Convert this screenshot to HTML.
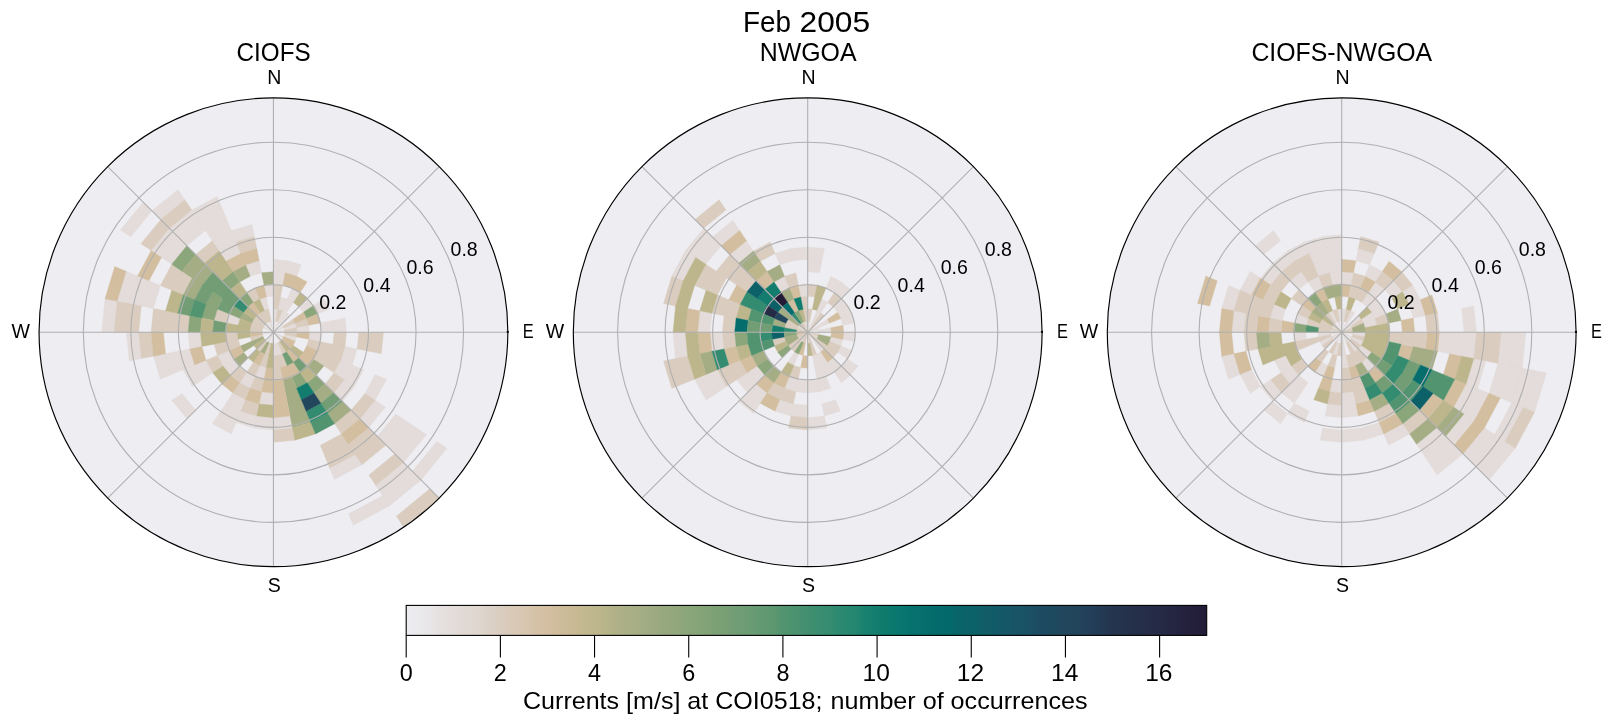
<!DOCTYPE html>
<html><head><meta charset="utf-8"><style>
html,body{margin:0;padding:0;background:#fff;width:1611px;height:724px;overflow:hidden}
svg{display:block;will-change:transform}
text{font-family:"Liberation Sans",sans-serif;fill:#000}
</style></head><body>
<svg width="1611" height="724" viewBox="0 0 1611 724">
<rect width="1611" height="724" fill="#fff"/>
<defs><clipPath id="cp0"><circle cx="273.45" cy="332.3" r="234.4"/></clipPath></defs>
<circle cx="273.45" cy="332.3" r="234.4" fill="#EEEDF2"/>
<g clip-path="url(#cp0)">
<path fill="#E3DCDA" stroke="#E3DCDA" stroke-width="0.35" d="M130.65 236.88L120.38 230.02L143.28 202.13L152 210.85ZM160.73 219.58L152 210.85L178.03 189.5L184.89 199.76ZM178.19 237.04L169.46 228.31L191.75 210.02L198.61 220.29ZM186.92 245.77L178.19 237.04L198.61 220.29L205.46 230.55ZM161.44 257.46L151.17 250.6L169.46 228.31L178.19 237.04ZM171.7 264.31L161.44 257.46L178.19 237.04L186.92 245.77ZM129.22 303.61L117.11 301.2L126.18 271.3L137.58 276.02ZM141.32 306.02L129.22 303.61L137.58 276.02L148.99 280.75ZM153.43 308.43L141.32 306.02L148.99 280.75L160.39 285.47ZM198.61 220.29L191.75 210.02L217.17 196.43L221.9 207.84ZM205.46 230.55L198.61 220.29L221.9 207.84L226.62 219.24ZM212.32 240.82L205.46 230.55L226.62 219.24L231.35 230.65ZM219.18 251.08L212.32 240.82L231.35 230.65L236.07 242.06ZM236.07 242.06L231.35 230.65L251.99 224.39L254.39 236.5ZM226.04 261.35L219.18 251.08L236.07 242.06L240.79 253.46ZM250.24 276.27L245.52 264.87L259.21 260.71L261.62 272.82ZM273.45 271.66L273.45 259.31L287.69 260.71L285.28 272.82ZM273.45 284L273.45 271.66L285.28 272.82L282.87 284.93ZM285.28 272.82L287.69 260.71L301.38 264.87L296.66 276.27ZM266.44 297.04L264.03 284.93L273.45 284L273.45 296.35ZM287.21 299.08L291.93 287.68L300.28 292.14L293.43 302.4ZM114.04 332.3L101.7 332.3L105 298.79L117.11 301.2ZM141.32 358.58L129.22 360.99L126.39 332.3L138.73 332.3ZM201.86 346.54L189.75 348.95L188.11 332.3L200.46 332.3ZM171.8 374.4L160.39 379.13L153.43 356.17L165.54 353.76ZM183.21 369.68L171.8 374.4L165.54 353.76L177.65 351.36ZM202.5 379.71L192.23 386.57L183.21 369.68L194.61 364.96ZM212.76 372.85L202.5 379.71L194.61 364.96L206.02 360.23ZM195.65 410.1L186.92 418.83L171.7 400.29L181.97 393.43ZM298.87 306.88L307.6 298.15L313.61 305.47L303.35 312.32ZM309.4 332.3L321.75 332.3L320.82 341.72L308.71 339.31ZM266.44 367.56L264.03 379.67L254.97 376.92L259.69 365.52ZM238.19 325.29L226.08 322.88L228.83 313.82L240.23 318.54ZM313.61 305.47L323.87 298.61L329.48 309.09L318.07 313.82ZM320.82 322.88L332.93 320.47L334.09 332.3L321.75 332.3ZM254.97 376.92L250.24 388.33L239.76 382.72L246.62 372.46ZM239.3 366.45L230.57 375.18L223.03 365.99L233.29 359.13ZM233.29 359.13L223.03 365.99L217.42 355.51L228.83 350.78ZM273.45 392.94L273.45 405.29L259.21 403.89L261.62 391.78ZM332.93 320.47L345.04 318.06L346.44 332.3L334.09 332.3ZM345.04 346.54L357.15 348.95L352.29 364.96L340.88 360.23ZM340.88 360.23L352.29 364.96L344.4 379.71L334.14 372.85ZM352.29 364.96L363.69 369.68L354.67 386.57L344.4 379.71ZM344.4 379.71L354.67 386.57L342.52 401.37L333.79 392.64ZM375.1 374.4L386.51 379.13L375.2 400.29L364.93 393.43ZM375.2 400.29L385.46 407.14L368.71 427.56L359.98 418.83ZM273.45 417.63L273.45 429.98L254.39 428.1L256.8 416ZM256.8 416L254.39 428.1L236.07 422.54L240.79 411.14ZM290.1 416L292.51 428.1L273.45 429.98L273.45 417.63ZM240.79 411.14L236.07 422.54L219.18 413.52L226.04 403.25ZM236.07 422.54L231.35 433.95L212.32 423.78L219.18 413.52ZM395.73 414L405.99 420.86L386.17 445.02L377.44 436.29ZM405.99 420.86L416.25 427.72L394.9 453.75L386.17 445.02ZM416.25 427.72L426.52 434.58L403.62 462.47L394.9 453.75ZM355.15 454.58L362.01 464.84L334.45 479.57L329.73 468.17ZM403.62 462.47L412.35 471.2L382.59 495.63L375.73 485.37ZM412.35 471.2L421.08 479.93L389.44 505.9L382.59 495.63ZM436.78 441.44L447.05 448.29L421.08 479.93L412.35 471.2ZM382.59 495.63L389.44 505.9L353.35 525.19L348.62 513.79ZM273.45 321.04L273.45 308.69L278.06 309.14L275.65 321.25ZM278.06 309.14L280.46 297.04L287.21 299.08L282.49 310.49ZM282.49 310.49L287.21 299.08L293.43 302.4L286.57 312.67ZM277.76 321.89L282.49 310.49L286.57 312.67L279.71 322.93ZM279.71 322.93L286.57 312.67L290.14 315.61L281.42 324.33ZM283.86 327.99L295.26 323.26L296.61 327.69L284.5 330.1ZM296.61 327.69L308.71 325.29L309.4 332.3L297.06 332.3ZM284.5 334.5L296.61 336.91L295.26 341.34L283.86 336.61ZM277.76 342.71L282.49 354.11L278.06 355.46L275.65 343.35ZM275.65 343.35L278.06 355.46L273.45 355.91L273.45 343.56ZM264.41 310.49L259.69 299.08L266.44 297.04L268.84 309.14ZM273.45 332.3L273.45 321.04L275.65 321.25ZM273.45 332.3L277.76 321.89L279.71 322.93ZM273.45 332.3L282.82 326.04L283.86 327.99ZM273.45 332.3L284.5 330.1L284.71 332.3ZM273.45 332.3L283.86 336.61L282.82 338.56ZM273.45 332.3L281.42 340.27L279.71 341.67ZM273.45 332.3L273.45 343.56L271.25 343.35ZM273.45 332.3L269.14 342.71L267.19 341.67ZM273.45 332.3L262.4 334.5L262.19 332.3ZM273.45 332.3L263.04 327.99L264.08 326.04ZM273.45 332.3L265.48 324.33L267.19 322.93ZM273.45 332.3L269.14 321.89L271.25 321.25ZM194.61 364.96L183.21 369.68L177.65 351.36L189.75 348.95ZM245.52 399.73L240.79 411.14L226.04 403.25L232.9 392.99Z"/>
<path fill="#DACDC0" stroke="#DACDC0" stroke-width="0.35" d="M169.46 228.31L160.73 219.58L184.89 199.76L191.75 210.02ZM204.38 263.23L195.65 254.5L212.32 240.82L219.18 251.08ZM151.17 250.6L140.91 243.74L160.73 219.58L169.46 228.31ZM171.8 290.2L160.39 285.47L171.7 264.31L181.97 271.17ZM183.21 294.92L171.8 290.2L181.97 271.17L192.23 278.03ZM240.79 253.46L236.07 242.06L254.39 236.5L256.8 248.6ZM273.45 296.35L273.45 284L282.87 284.93L280.46 297.04ZM253.47 302.4L246.62 292.14L254.97 287.68L259.69 299.08ZM126.39 332.3L114.04 332.3L117.11 301.2L129.22 303.61ZM138.73 332.3L126.39 332.3L129.22 303.61L141.32 306.02ZM163.42 332.3L151.08 332.3L153.43 308.43L165.54 310.84ZM175.77 332.3L163.42 332.3L165.54 310.84L177.65 313.24ZM188.11 332.3L175.77 332.3L177.65 313.24L189.75 315.65ZM153.43 356.17L141.32 358.58L138.73 332.3L151.08 332.3ZM308.71 339.31L320.82 341.72L318.07 350.78L306.67 346.06ZM280.46 367.56L282.87 379.67L273.45 380.6L273.45 368.25ZM259.69 365.52L254.97 376.92L246.62 372.46L253.47 362.2ZM240.23 346.06L228.83 350.78L226.08 341.72L238.19 339.31ZM238.19 339.31L226.08 341.72L225.15 332.3L237.49 332.3ZM320.82 341.72L332.93 344.13L329.48 355.51L318.07 350.78ZM318.07 350.78L329.48 355.51L323.87 365.99L313.61 359.13ZM264.03 379.67L261.62 391.78L250.24 388.33L254.97 376.92ZM246.62 372.46L239.76 382.72L230.57 375.18L239.3 366.45ZM228.83 350.78L217.42 355.51L213.97 344.13L226.08 341.72ZM226.08 322.88L213.97 320.47L217.42 309.09L228.83 313.82ZM250.24 388.33L245.52 399.73L232.9 392.99L239.76 382.72ZM334.09 332.3L346.44 332.3L345.04 346.54L332.93 344.13ZM358.78 332.3L371.13 332.3L369.25 351.36L357.15 348.95ZM371.13 332.3L383.48 332.3L381.36 353.76L369.25 351.36ZM332.93 344.13L345.04 346.54L340.88 360.23L329.48 355.51ZM329.48 355.51L340.88 360.23L334.14 372.85L323.87 365.99ZM334.14 372.85L344.4 379.71L333.79 392.64L325.06 383.91ZM364.93 393.43L375.2 400.29L359.98 418.83L351.25 410.1ZM259.21 403.89L256.8 416L240.79 411.14L245.52 399.73ZM292.51 428.1L294.91 440.21L273.45 442.33L273.45 429.98ZM351.25 410.1L359.98 418.83L341.44 434.05L334.58 423.78ZM368.71 427.56L377.44 436.29L355.15 454.58L348.29 444.31ZM377.44 436.29L386.17 445.02L362.01 464.84L355.15 454.58ZM348.29 444.31L355.15 454.58L329.73 468.17L325 456.76ZM341.44 434.05L348.29 444.31L325 456.76L320.28 445.36ZM394.9 453.75L403.62 462.47L375.73 485.37L368.87 475.1ZM429.81 488.66L440.7 499.55L404.86 528.97L396.3 516.16ZM273.45 308.69L273.45 296.35L280.46 297.04L278.06 309.14ZM275.65 321.25L278.06 309.14L282.49 310.49L277.76 321.89ZM282.82 326.04L293.08 319.18L295.26 323.26L283.86 327.99ZM295.26 323.26L306.67 318.54L308.71 325.29L296.61 327.69ZM284.5 330.1L296.61 327.69L297.06 332.3L284.71 332.3ZM284.71 332.3L297.06 332.3L296.61 336.91L284.5 334.5ZM279.71 341.67L286.57 351.93L282.49 354.11L277.76 342.71ZM282.49 354.11L287.21 365.52L280.46 367.56L278.06 355.46ZM278.06 355.46L280.46 367.56L273.45 368.25L273.45 355.91ZM268.84 355.46L266.44 367.56L259.69 365.52L264.41 354.11ZM271.25 343.35L268.84 355.46L264.41 354.11L269.14 342.71ZM267.19 341.67L260.33 351.93L256.76 348.99L265.48 340.27ZM263.04 336.61L251.64 341.34L250.29 336.91L262.4 334.5ZM262.19 332.3L249.84 332.3L250.29 327.69L262.4 330.1ZM262.4 330.1L250.29 327.69L251.64 323.26L263.04 327.99ZM263.04 327.99L251.64 323.26L253.82 319.18L264.08 326.04ZM264.08 326.04L253.82 319.18L256.76 315.61L265.48 324.33ZM265.48 324.33L256.76 315.61L260.33 312.67L267.19 322.93ZM267.19 322.93L260.33 312.67L264.41 310.49L269.14 321.89ZM269.14 321.89L264.41 310.49L268.84 309.14L271.25 321.25ZM223.03 365.99L212.76 372.85L206.02 360.23L217.42 355.51Z"/>
<path fill="#8AA67A" stroke="#8AA67A" stroke-width="0.35" d="M181.97 271.17L171.7 264.31L186.92 245.77L195.65 254.5ZM230.57 289.42L221.84 280.69L232.9 271.61L239.76 281.88ZM248.03 306.88L239.3 298.15L246.62 292.14L253.47 302.4ZM200.46 332.3L188.11 332.3L189.75 315.65L201.86 318.06ZM213.97 320.47L201.86 318.06L206.02 304.37L217.42 309.09ZM303.35 312.32L313.61 305.47L318.07 313.82L306.67 318.54ZM240.23 318.54L228.83 313.82L233.29 305.47L243.55 312.32ZM300.28 372.46L307.14 382.72L296.66 388.33L291.93 376.92ZM316.33 375.18L325.06 383.91L314 392.99L307.14 382.72ZM217.42 309.09L206.02 304.37L212.76 291.75L223.03 298.61Z"/>
<path fill="#A5AD85" stroke="#A5AD85" stroke-width="0.35" d="M192.23 278.03L181.97 271.17L195.65 254.5L204.38 263.23ZM239.76 281.88L232.9 271.61L245.52 264.87L250.24 276.27ZM264.03 284.93L261.62 272.82L273.45 271.66L273.45 284ZM248.03 357.72L239.3 366.45L233.29 359.13L243.55 352.28ZM313.61 359.13L323.87 365.99L316.33 375.18L307.6 366.45ZM291.93 376.92L296.66 388.33L285.28 391.78L282.87 379.67ZM296.66 388.33L301.38 399.73L287.69 403.89L285.28 391.78ZM325.06 383.91L333.79 392.64L320.86 403.25L314 392.99ZM301.38 399.73L306.11 411.14L290.1 416L287.69 403.89ZM342.52 401.37L351.25 410.1L334.58 423.78L327.72 413.52ZM306.11 411.14L310.83 422.54L292.51 428.1L290.1 416ZM269.14 342.71L264.41 354.11L260.33 351.93L267.19 341.67ZM253.82 345.42L243.55 352.28L240.23 346.06L251.64 341.34ZM264.08 338.56L253.82 345.42L251.64 341.34L263.04 336.61ZM251.64 323.26L240.23 318.54L243.55 312.32L253.82 319.18ZM202.5 284.89L192.23 278.03L204.38 263.23L213.11 271.96ZM194.61 299.64L183.21 294.92L192.23 278.03L202.5 284.89Z"/>
<path fill="#D3BEA0" stroke="#D3BEA0" stroke-width="0.35" d="M148.99 280.75L137.58 276.02L151.17 250.6L161.44 257.46ZM117.11 301.2L105 298.79L114.77 266.57L126.18 271.3ZM245.52 264.87L240.79 253.46L256.8 248.6L259.21 260.71ZM232.9 271.61L226.04 261.35L240.79 253.46L245.52 264.87ZM282.87 284.93L285.28 272.82L296.66 276.27L291.93 287.68ZM291.93 287.68L296.66 276.27L307.14 281.88L300.28 292.14ZM259.69 299.08L254.97 287.68L264.03 284.93L266.44 297.04ZM165.54 353.76L153.43 356.17L151.08 332.3L163.42 332.3ZM206.02 360.23L194.61 364.96L189.75 348.95L201.86 346.54ZM306.67 318.54L318.07 313.82L320.82 322.88L308.71 325.29ZM306.67 346.06L318.07 350.78L313.61 359.13L303.35 352.28ZM303.35 352.28L313.61 359.13L307.6 366.45L298.87 357.72ZM293.43 362.2L300.28 372.46L291.93 376.92L287.21 365.52ZM287.21 365.52L291.93 376.92L282.87 379.67L280.46 367.56ZM273.45 368.25L273.45 380.6L264.03 379.67L266.44 367.56ZM243.55 352.28L233.29 359.13L228.83 350.78L240.23 346.06ZM282.87 379.67L285.28 391.78L273.45 392.94L273.45 380.6ZM273.45 380.6L273.45 392.94L261.62 391.78L264.03 379.67ZM285.28 391.78L287.69 403.89L273.45 405.29L273.45 392.94ZM261.62 391.78L259.21 403.89L245.52 399.73L250.24 388.33ZM239.76 382.72L232.9 392.99L221.84 383.91L230.57 375.18ZM287.69 403.89L290.1 416L273.45 417.63L273.45 405.29ZM359.98 418.83L368.71 427.56L348.29 444.31L341.44 434.05ZM293.08 319.18L303.35 312.32L306.67 318.54L295.26 323.26ZM297.06 332.3L309.4 332.3L308.71 339.31L296.61 336.91ZM283.86 336.61L295.26 341.34L293.08 345.42L282.82 338.56ZM282.82 338.56L293.08 345.42L290.14 348.99L281.42 340.27ZM290.14 348.99L298.87 357.72L293.43 362.2L286.57 351.93ZM264.41 354.11L259.69 365.52L253.47 362.2L260.33 351.93ZM262.4 334.5L250.29 336.91L249.84 332.3L262.19 332.3ZM256.76 315.61L248.03 306.88L253.47 302.4L260.33 312.67Z"/>
<path fill="#BDB68C" stroke="#BDB68C" stroke-width="0.35" d="M221.84 280.69L213.11 271.96L226.04 261.35L232.9 271.61ZM213.11 271.96L204.38 263.23L219.18 251.08L226.04 261.35ZM239.3 298.15L230.57 289.42L239.76 281.88L246.62 292.14ZM293.43 302.4L300.28 292.14L307.6 298.15L298.87 306.88ZM212.8 332.3L200.46 332.3L201.86 318.06L213.97 320.47ZM177.65 313.24L165.54 310.84L171.8 290.2L183.21 294.92ZM213.97 344.13L201.86 346.54L200.46 332.3L212.8 332.3ZM237.49 332.3L225.15 332.3L226.08 322.88L238.19 325.29ZM307.6 366.45L316.33 375.18L307.14 382.72L300.28 372.46ZM226.08 341.72L213.97 344.13L212.8 332.3L225.15 332.3ZM230.57 375.18L221.84 383.91L212.76 372.85L223.03 365.99ZM273.45 405.29L273.45 417.63L256.8 416L259.21 403.89ZM310.83 422.54L315.55 433.95L294.91 440.21L292.51 428.1ZM293.08 345.42L303.35 352.28L298.87 357.72L290.14 348.99ZM281.42 340.27L290.14 348.99L286.57 351.93L279.71 341.67ZM273.45 355.91L273.45 368.25L266.44 367.56L268.84 355.46ZM273.45 343.56L273.45 355.91L268.84 355.46L271.25 343.35ZM260.33 351.93L253.47 362.2L248.03 357.72L256.76 348.99ZM265.48 340.27L256.76 348.99L253.82 345.42L264.08 338.56ZM250.29 336.91L238.19 339.31L237.49 332.3L249.84 332.3ZM249.84 332.3L237.49 332.3L238.19 325.29L250.29 327.69ZM250.29 327.69L238.19 325.29L240.23 318.54L251.64 323.26ZM253.82 319.18L243.55 312.32L248.03 306.88L256.76 315.61ZM260.33 312.67L253.47 302.4L259.69 299.08L264.41 310.49Z"/>
<path fill="#729D75" stroke="#729D75" stroke-width="0.35" d="M189.75 315.65L177.65 313.24L183.21 294.92L194.61 299.64ZM298.87 357.72L307.6 366.45L300.28 372.46L293.43 362.2ZM225.15 332.3L212.8 332.3L213.97 320.47L226.08 322.88ZM228.83 313.82L217.42 309.09L223.03 298.61L233.29 305.47ZM333.79 392.64L342.52 401.37L327.72 413.52L320.86 403.25ZM286.57 351.93L293.43 362.2L287.21 365.52L282.49 354.11ZM233.29 305.47L223.03 298.61L230.57 289.42L239.3 298.15ZM223.03 298.61L212.76 291.75L221.84 280.69L230.57 289.42ZM212.76 291.75L202.5 284.89L213.11 271.96L221.84 280.69ZM206.02 304.37L194.61 299.64L202.5 284.89L212.76 291.75Z"/>
<path fill="#52946F" stroke="#52946F" stroke-width="0.35" d="M201.86 318.06L189.75 315.65L194.61 299.64L206.02 304.37ZM327.72 413.52L334.58 423.78L315.55 433.95L310.83 422.54Z"/>
<path fill="#348C70" stroke="#348C70" stroke-width="0.35" d="M243.55 312.32L233.29 305.47L239.3 298.15L248.03 306.88ZM320.86 403.25L327.72 413.52L310.83 422.54L306.11 411.14Z"/>
<path fill="#127D6E" stroke="#127D6E" stroke-width="0.35" d="M307.14 382.72L314 392.99L301.38 399.73L296.66 388.33Z"/>
<path fill="#22475C" stroke="#22475C" stroke-width="0.35" d="M314 392.99L320.86 403.25L306.11 411.14L301.38 399.73Z"/>
</g>
<g fill="none" stroke="#B0B0B0" stroke-width="1.1"><circle cx="273.45" cy="332.3" r="47.53"/><circle cx="273.45" cy="332.3" r="95.06"/><circle cx="273.45" cy="332.3" r="142.59"/><circle cx="273.45" cy="332.3" r="190.12"/><path d="M273.45 332.3L273.45 97.9M273.45 332.3L439.2 166.55M273.45 332.3L507.85 332.3M273.45 332.3L439.2 498.05M273.45 332.3L273.45 566.7M273.45 332.3L107.7 498.05M273.45 332.3L39.05 332.3M273.45 332.3L107.7 166.55"/></g>
<circle cx="273.45" cy="332.3" r="234.4" fill="none" stroke="#000" stroke-width="1.15"/>
<circle cx="507.75" cy="331.9" r="1.15" fill="#000"/>
<defs><clipPath id="cp1"><circle cx="807.7" cy="332.3" r="234.4"/></clipPath></defs>
<circle cx="807.7" cy="332.3" r="234.4" fill="#EEEDF2"/>
<g clip-path="url(#cp1)">
<path fill="#E3DCDA" stroke="#E3DCDA" stroke-width="0.35" d="M695.69 257.46L685.42 250.6L703.71 228.31L712.44 237.04ZM705.95 264.31L695.69 257.46L712.44 237.04L721.17 245.77ZM721.17 245.77L712.44 237.04L732.86 220.29L739.71 230.55ZM738.63 263.23L729.9 254.5L746.57 240.82L753.43 251.08ZM683.24 280.75L671.83 276.02L685.42 250.6L695.69 257.46ZM793.46 260.71L791.05 248.6L807.7 246.97L807.7 259.31ZM807.7 259.31L807.7 246.97L824.35 248.6L821.94 260.71ZM807.7 271.66L807.7 259.31L821.94 260.71L819.53 272.82ZM779.77 264.87L775.04 253.46L791.05 248.6L793.46 260.71ZM780.87 292.14L774.01 281.88L784.49 276.27L789.22 287.68ZM800.69 297.04L798.28 284.93L807.7 284L807.7 296.35ZM826.18 287.68L830.91 276.27L841.39 281.88L834.53 292.14ZM834.53 292.14L841.39 281.88L850.58 289.42L841.85 298.15ZM816.74 310.49L821.46 299.08L827.68 302.4L820.82 312.67ZM710.02 332.3L697.68 332.3L699.79 310.84L711.9 313.24ZM687.68 356.17L675.57 358.58L672.99 332.3L685.33 332.3ZM724 348.95L711.9 351.36L710.02 332.3L722.37 332.3ZM716.22 393.43L705.95 400.29L694.64 379.13L706.05 374.4ZM726.48 386.57L716.22 393.43L706.05 374.4L717.46 369.68ZM756.09 383.91L747.36 392.64L736.75 379.71L747.01 372.85ZM821.46 365.52L826.18 376.92L817.12 379.67L814.71 367.56ZM827.68 362.2L834.53 372.46L826.18 376.92L821.46 365.52ZM833.12 357.72L841.85 366.45L834.53 372.46L827.68 362.2ZM843.66 332.3L856 332.3L855.07 341.72L842.96 339.31ZM840.92 318.54L852.32 313.82L855.07 322.88L842.96 325.29ZM837.6 312.32L847.86 305.47L852.32 313.82L840.92 318.54ZM833.12 306.88L841.85 298.15L847.86 305.47L837.6 312.32ZM798.28 379.67L795.87 391.78L784.49 388.33L789.22 376.92ZM807.7 380.6L807.7 392.94L795.87 391.78L798.28 379.67ZM817.12 379.67L819.53 391.78L807.7 392.94L807.7 380.6ZM826.18 376.92L830.91 388.33L819.53 391.78L817.12 379.67ZM841.85 366.45L850.58 375.18L841.39 382.72L834.53 372.46ZM847.86 359.13L858.12 365.99L850.58 375.18L841.85 366.45ZM764.82 375.18L756.09 383.91L747.01 372.85L757.28 365.99ZM767.15 392.99L760.29 403.25L747.36 392.64L756.09 383.91ZM793.46 403.89L791.05 416L775.04 411.14L779.77 399.73ZM807.7 405.29L807.7 417.63L791.05 416L793.46 403.89ZM835.63 399.73L840.36 411.14L824.35 416L821.94 403.89ZM824.35 416L826.76 428.1L807.7 429.98L807.7 417.63ZM760.29 403.25L753.43 413.52L738.63 401.37L747.36 392.64ZM830.86 336.91L842.96 339.31L840.92 346.06L829.51 341.34ZM820.82 351.93L827.68 362.2L821.46 365.52L816.74 354.11ZM816.74 354.11L821.46 365.52L814.71 367.56L812.31 355.46ZM798.66 354.11L793.94 365.52L787.72 362.2L794.58 351.93ZM840.92 346.06L852.32 350.78L847.86 359.13L837.6 352.28ZM812.01 321.89L816.74 310.49L820.82 312.67L813.96 322.93ZM817.07 326.04L827.33 319.18L829.51 323.26L818.11 327.99ZM818.75 330.1L830.86 327.69L831.31 332.3L818.97 332.3ZM815.67 340.27L824.39 348.99L820.82 351.93L813.96 341.67ZM807.7 332.3L807.7 321.04L809.9 321.25ZM807.7 332.3L812.01 321.89L813.96 322.93ZM807.7 332.3L817.07 326.04L818.11 327.99ZM807.7 332.3L818.11 327.99L818.75 330.1ZM807.7 332.3L818.97 332.3L818.75 334.5ZM807.7 332.3L818.11 336.61L817.07 338.56ZM807.7 332.3L815.67 340.27L813.96 341.67ZM807.7 332.3L809.9 343.35L807.7 343.56ZM807.7 332.3L801.44 341.67L799.73 340.27ZM807.7 332.3L797.29 327.99L798.33 326.04ZM807.7 332.3L803.39 321.89L805.5 321.25ZM807.7 332.3L805.5 321.25L807.7 321.04Z"/>
<path fill="#DACDC0" stroke="#DACDC0" stroke-width="0.35" d="M726.48 278.03L716.22 271.17L729.9 254.5L738.63 263.23ZM736.75 284.89L726.48 278.03L738.63 263.23L747.36 271.96ZM703.71 228.31L694.98 219.58L719.14 199.76L726 210.02ZM675.57 306.02L663.47 303.61L671.83 276.02L683.24 280.75ZM706.05 290.2L694.64 285.47L705.95 264.31L716.22 271.17ZM717.46 294.92L706.05 290.2L716.22 271.17L726.48 278.03ZM724 315.65L711.9 313.24L717.46 294.92L728.86 299.64ZM736.11 318.06L724 315.65L728.86 299.64L740.27 304.37ZM760.29 261.35L753.43 251.08L770.32 242.06L775.04 253.46ZM789.22 287.68L784.49 276.27L795.87 272.82L798.28 284.93ZM747.01 291.75L736.75 284.89L747.36 271.96L756.09 280.69ZM807.7 296.35L807.7 284L817.12 284.93L814.71 297.04ZM827.68 302.4L834.53 292.14L841.85 298.15L833.12 306.88ZM803.09 309.14L800.69 297.04L807.7 296.35L807.7 308.69ZM734.71 332.3L722.37 332.3L724 315.65L736.11 318.06ZM736.11 346.54L724 348.95L722.37 332.3L734.71 332.3ZM683.24 383.85L671.83 388.58L663.47 360.99L675.57 358.58ZM694.64 379.13L683.24 383.85L675.57 358.58L687.68 356.17ZM736.75 379.71L726.48 386.57L717.46 369.68L728.86 364.96ZM747.01 372.85L736.75 379.71L728.86 364.96L740.27 360.23ZM796.65 330.1L784.54 327.69L785.89 323.26L797.29 327.99ZM797.29 327.99L785.89 323.26L788.07 319.18L798.33 326.04ZM800.69 367.56L798.28 379.67L789.22 376.92L793.94 365.52ZM784.49 388.33L779.77 399.73L767.15 392.99L774.01 382.72ZM795.87 391.78L793.46 403.89L779.77 399.73L784.49 388.33ZM807.7 417.63L807.7 429.98L788.64 428.1L791.05 416ZM827.33 345.42L837.6 352.28L833.12 357.72L824.39 348.99ZM785.89 341.34L774.48 346.06L772.44 339.31L784.54 336.91ZM829.51 341.34L840.92 346.06L837.6 352.28L827.33 345.42ZM807.7 321.04L807.7 308.69L812.31 309.14L809.9 321.25ZM813.96 322.93L820.82 312.67L824.39 315.61L815.67 324.33ZM817.07 338.56L827.33 345.42L824.39 348.99L815.67 340.27ZM812.01 342.71L816.74 354.11L812.31 355.46L809.9 343.35ZM801.44 341.67L794.58 351.93L791.01 348.99L799.73 340.27ZM799.73 340.27L791.01 348.99L788.07 345.42L798.33 338.56ZM805.5 321.25L803.09 309.14L807.7 308.69L807.7 321.04ZM807.7 332.3L813.96 322.93L815.67 324.33ZM807.7 332.3L818.75 334.5L818.11 336.61ZM807.7 332.3L817.07 338.56L815.67 340.27ZM807.7 332.3L812.01 342.71L809.9 343.35ZM807.7 332.3L805.5 343.35L803.39 342.71ZM807.7 332.3L803.39 342.71L801.44 341.67ZM807.7 332.3L799.73 340.27L798.33 338.56ZM807.7 332.3L798.33 338.56L797.29 336.61ZM807.7 332.3L797.29 336.61L796.65 334.5ZM807.7 332.3L796.44 332.3L796.65 330.1ZM807.7 332.3L796.65 330.1L797.29 327.99ZM807.7 332.3L798.33 326.04L799.73 324.33ZM807.7 332.3L799.73 324.33L801.44 322.93ZM807.7 332.3L801.44 322.93L803.39 321.89Z"/>
<path fill="#D3BEA0" stroke="#D3BEA0" stroke-width="0.35" d="M729.9 254.5L721.17 245.77L739.71 230.55L746.57 240.82ZM740.27 304.37L728.86 299.64L736.75 284.89L747.01 291.75ZM764.82 289.42L756.09 280.69L767.15 271.61L774.01 281.88ZM793.94 299.08L789.22 287.68L798.28 284.93L800.69 297.04ZM794.58 312.67L787.72 302.4L793.94 299.08L798.66 310.49ZM697.68 332.3L685.33 332.3L687.68 308.43L699.79 310.84ZM711.9 351.36L699.79 353.76L697.68 332.3L710.02 332.3ZM740.27 360.23L728.86 364.96L724 348.95L736.11 346.54ZM830.86 327.69L842.96 325.29L843.66 332.3L831.31 332.3ZM827.33 319.18L837.6 312.32L840.92 318.54L829.51 323.26ZM789.22 376.92L784.49 388.33L774.01 382.72L780.87 372.46ZM757.28 365.99L747.01 372.85L740.27 360.23L751.67 355.51ZM774.01 382.72L767.15 392.99L756.09 383.91L764.82 375.18ZM779.77 399.73L775.04 411.14L760.29 403.25L767.15 392.99ZM831.31 332.3L843.66 332.3L842.96 339.31L830.86 336.91ZM807.7 355.91L807.7 368.25L800.69 367.56L803.09 355.46ZM824.39 348.99L833.12 357.72L827.68 362.2L820.82 351.93ZM805.5 343.35L803.09 355.46L798.66 354.11L803.39 342.71ZM807.7 332.3L796.65 334.5L796.44 332.3Z"/>
<path fill="#A5AD85" stroke="#A5AD85" stroke-width="0.35" d="M747.36 271.96L738.63 263.23L753.43 251.08L760.29 261.35ZM774.01 281.88L767.15 271.61L779.77 264.87L784.49 276.27ZM787.72 302.4L780.87 292.14L789.22 287.68L793.94 299.08ZM717.46 369.68L706.05 374.4L699.79 353.76L711.9 351.36ZM788.07 319.18L777.8 312.32L782.28 306.88L791.01 315.61ZM784.54 327.69L772.44 325.29L774.48 318.54L785.89 323.26ZM798.33 326.04L788.07 319.18L791.01 315.61L799.73 324.33ZM767.54 359.13L757.28 365.99L751.67 355.51L763.08 350.78ZM780.87 372.46L774.01 382.72L764.82 375.18L773.55 366.45ZM797.29 336.61L785.89 341.34L784.54 336.91L796.65 334.5ZM818.75 334.5L830.86 336.91L829.51 341.34L818.11 336.61ZM818.11 336.61L829.51 341.34L827.33 345.42L817.07 338.56ZM798.33 338.56L788.07 345.42L785.89 341.34L797.29 336.61Z"/>
<path fill="#BDB68C" stroke="#BDB68C" stroke-width="0.35" d="M694.64 285.47L683.24 280.75L695.69 257.46L705.95 264.31ZM687.68 308.43L675.57 306.02L683.24 280.75L694.64 285.47ZM711.9 313.24L699.79 310.84L706.05 290.2L717.46 294.92ZM756.09 280.69L747.36 271.96L760.29 261.35L767.15 271.61ZM814.71 297.04L817.12 284.93L826.18 287.68L821.46 299.08ZM812.31 309.14L814.71 297.04L821.46 299.08L816.74 310.49ZM685.33 332.3L672.99 332.3L675.57 306.02L687.68 308.43ZM748.22 320.47L736.11 318.06L740.27 304.37L751.67 309.09ZM699.79 353.76L687.68 356.17L685.33 332.3L697.68 332.3ZM706.05 374.4L694.64 379.13L687.68 356.17L699.79 353.76ZM751.67 355.51L740.27 360.23L736.11 346.54L748.22 344.13ZM793.94 365.52L789.22 376.92L780.87 372.46L787.72 362.2ZM788.07 345.42L777.8 352.28L774.48 346.06L785.89 341.34ZM809.9 343.35L812.31 355.46L807.7 355.91L807.7 343.56ZM803.39 321.89L798.66 310.49L803.09 309.14L805.5 321.25Z"/>
<path fill="#348C70" stroke="#348C70" stroke-width="0.35" d="M751.67 309.09L740.27 304.37L747.01 291.75L757.28 298.61ZM763.08 313.82L751.67 309.09L757.28 298.61L767.54 305.47ZM728.86 364.96L717.46 369.68L711.9 351.36L724 348.95ZM799.73 324.33L791.01 315.61L794.58 312.67L801.44 322.93ZM796.44 332.3L784.09 332.3L784.54 327.69L796.65 330.1ZM772.44 339.31L760.33 341.72L759.4 332.3L771.75 332.3Z"/>
<path fill="#127D6E" stroke="#127D6E" stroke-width="0.35" d="M773.55 298.15L764.82 289.42L774.01 281.88L780.87 292.14ZM767.54 305.47L757.28 298.61L764.82 289.42L773.55 298.15ZM798.66 310.49L793.94 299.08L800.69 297.04L803.09 309.14ZM784.09 332.3L771.75 332.3L772.44 325.29L784.54 327.69Z"/>
<path fill="#0C6168" stroke="#0C6168" stroke-width="0.35" d="M757.28 298.61L747.01 291.75L756.09 280.69L764.82 289.42ZM777.8 312.32L767.54 305.47L773.55 298.15L782.28 306.88ZM784.54 336.91L772.44 339.31L771.75 332.3L784.09 332.3Z"/>
<path fill="#231A36" stroke="#231A36" stroke-width="0.35" d="M782.28 306.88L773.55 298.15L780.87 292.14L787.72 302.4Z"/>
<path fill="#056E6C" stroke="#056E6C" stroke-width="0.35" d="M791.01 315.61L782.28 306.88L787.72 302.4L794.58 312.67ZM747.06 332.3L734.71 332.3L736.11 318.06L748.22 320.47Z"/>
<path fill="#8AA67A" stroke="#8AA67A" stroke-width="0.35" d="M748.22 344.13L736.11 346.54L734.71 332.3L747.06 332.3ZM773.55 366.45L764.82 375.18L757.28 365.99L767.54 359.13ZM791.01 348.99L782.28 357.72L777.8 352.28L788.07 345.42ZM796.65 334.5L784.54 336.91L784.09 332.3L796.44 332.3ZM803.39 342.71L798.66 354.11L794.58 351.93L801.44 341.67ZM801.44 322.93L794.58 312.67L798.66 310.49L803.39 321.89Z"/>
<path fill="#252A45" stroke="#252A45" stroke-width="0.35" d="M774.48 318.54L763.08 313.82L767.54 305.47L777.8 312.32Z"/>
<path fill="#22475C" stroke="#22475C" stroke-width="0.35" d="M785.89 323.26L774.48 318.54L777.8 312.32L788.07 319.18Z"/>
<path fill="#52946F" stroke="#52946F" stroke-width="0.35" d="M772.44 325.29L760.33 322.88L763.08 313.82L774.48 318.54ZM774.48 346.06L763.08 350.78L760.33 341.72L772.44 339.31ZM760.33 322.88L748.22 320.47L751.67 309.09L763.08 313.82ZM760.33 341.72L748.22 344.13L747.06 332.3L759.4 332.3ZM763.08 350.78L751.67 355.51L748.22 344.13L760.33 341.72Z"/>
<path fill="#729D75" stroke="#729D75" stroke-width="0.35" d="M771.75 332.3L759.4 332.3L760.33 322.88L772.44 325.29ZM759.4 332.3L747.06 332.3L748.22 320.47L760.33 322.88Z"/>
</g>
<g fill="none" stroke="#B0B0B0" stroke-width="1.1"><circle cx="807.7" cy="332.3" r="47.53"/><circle cx="807.7" cy="332.3" r="95.06"/><circle cx="807.7" cy="332.3" r="142.59"/><circle cx="807.7" cy="332.3" r="190.12"/><path d="M807.7 332.3L807.7 97.9M807.7 332.3L973.45 166.55M807.7 332.3L1042.1 332.3M807.7 332.3L973.45 498.05M807.7 332.3L807.7 566.7M807.7 332.3L641.95 498.05M807.7 332.3L573.3 332.3M807.7 332.3L641.95 166.55"/></g>
<circle cx="807.7" cy="332.3" r="234.4" fill="none" stroke="#000" stroke-width="1.15"/>
<circle cx="1042" cy="331.9" r="1.15" fill="#000"/>
<defs><clipPath id="cp2"><circle cx="1341.7" cy="332.3" r="234.4"/></clipPath></defs>
<circle cx="1341.7" cy="332.3" r="234.4" fill="#EEEDF2"/>
<g clip-path="url(#cp2)">
<path fill="#E3DCDA" stroke="#E3DCDA" stroke-width="0.35" d="M1263.9 254.5L1255.17 245.77L1273.71 230.55L1280.57 240.82ZM1251.46 294.92L1240.05 290.2L1250.22 271.17L1260.48 278.03ZM1233.79 310.84L1221.68 308.43L1228.64 285.47L1240.05 290.2ZM1270.75 284.89L1260.48 278.03L1272.63 263.23L1281.36 271.96ZM1281.36 271.96L1272.63 263.23L1287.43 251.08L1294.29 261.35ZM1325.05 248.6L1322.64 236.5L1341.7 234.62L1341.7 246.97ZM1309.04 253.46L1304.32 242.06L1322.64 236.5L1325.05 248.6ZM1294.29 261.35L1287.43 251.08L1304.32 242.06L1309.04 253.46ZM1327.46 260.71L1325.05 248.6L1341.7 246.97L1341.7 259.31ZM1329.87 272.82L1327.46 260.71L1341.7 259.31L1341.7 271.66ZM1332.28 284.93L1329.87 272.82L1341.7 271.66L1341.7 284ZM1313.77 264.87L1309.04 253.46L1325.05 248.6L1327.46 260.71ZM1318.49 276.27L1313.77 264.87L1327.46 260.71L1329.87 272.82ZM1298.82 289.42L1290.09 280.69L1301.15 271.61L1308.01 281.88ZM1361.68 302.4L1368.53 292.14L1375.85 298.15L1367.12 306.88ZM1341.7 284L1341.7 271.66L1353.53 272.82L1351.12 284.93ZM1355.94 260.71L1358.35 248.6L1374.36 253.46L1369.63 264.87ZM1364.91 276.27L1369.63 264.87L1382.25 271.61L1375.39 281.88ZM1368.53 292.14L1375.39 281.88L1384.58 289.42L1375.85 298.15ZM1314.87 292.14L1308.01 281.88L1318.49 276.27L1323.22 287.68ZM1244.02 332.3L1231.67 332.3L1233.79 310.84L1245.9 313.24ZM1291.28 365.99L1281.01 372.85L1274.27 360.23L1285.67 355.51ZM1282.22 320.47L1270.11 318.06L1274.27 304.37L1285.67 309.09ZM1240.05 374.4L1228.64 379.13L1221.68 356.17L1233.79 353.76ZM1260.48 386.57L1250.22 393.43L1240.05 374.4L1251.46 369.68ZM1287.43 413.52L1280.57 423.78L1263.9 410.1L1272.63 401.37ZM1281.36 392.64L1272.63 401.37L1260.48 386.57L1270.75 379.71ZM1306.44 339.31L1294.33 341.72L1293.4 332.3L1305.75 332.3ZM1327.94 365.52L1323.22 376.92L1314.87 372.46L1321.72 362.2ZM1367.12 357.72L1375.85 366.45L1368.53 372.46L1361.68 362.2ZM1371.6 312.32L1381.86 305.47L1386.32 313.82L1374.92 318.54ZM1367.12 306.88L1375.85 298.15L1381.86 305.47L1371.6 312.32ZM1306.44 325.29L1294.33 322.88L1297.08 313.82L1308.48 318.54ZM1361.33 319.18L1371.6 312.32L1374.92 318.54L1363.51 323.26ZM1363.51 323.26L1374.92 318.54L1376.96 325.29L1364.86 327.69ZM1361.33 345.42L1371.6 352.28L1367.12 357.72L1358.39 348.99ZM1346.31 355.46L1348.71 367.56L1341.7 368.25L1341.7 355.91ZM1341.7 380.6L1341.7 392.94L1329.87 391.78L1332.28 379.67ZM1353.53 391.78L1355.94 403.89L1341.7 405.29L1341.7 392.94ZM1308.01 382.72L1301.15 392.99L1290.09 383.91L1298.82 375.18ZM1298.82 375.18L1290.09 383.91L1281.01 372.85L1291.28 365.99ZM1355.94 403.89L1358.35 416L1341.7 417.63L1341.7 405.29ZM1341.7 405.29L1341.7 417.63L1325.05 416L1327.46 403.89ZM1301.15 392.99L1294.29 403.25L1281.36 392.64L1290.09 383.91ZM1409.13 304.37L1420.54 299.64L1425.4 315.65L1413.29 318.06ZM1461.72 308.43L1473.83 306.02L1476.41 332.3L1464.07 332.3ZM1439.38 332.3L1451.73 332.3L1449.61 353.76L1437.5 351.36ZM1451.73 332.3L1464.07 332.3L1461.72 356.17L1449.61 353.76ZM1464.07 332.3L1476.41 332.3L1473.83 358.58L1461.72 356.17ZM1501.11 332.3L1513.45 332.3L1510.15 365.81L1498.04 363.4ZM1473.83 358.58L1485.93 360.99L1477.57 388.58L1466.16 383.85ZM1498.04 363.4L1510.15 365.81L1500.38 398.03L1488.97 393.3ZM1466.16 383.85L1477.57 388.58L1463.98 414L1453.71 407.14ZM1477.57 388.58L1488.97 393.3L1474.24 420.86L1463.98 414ZM1463.98 414L1474.24 420.86L1454.42 445.02L1445.69 436.29ZM1436.96 427.56L1445.69 436.29L1423.4 454.58L1416.54 444.31ZM1445.69 436.29L1454.42 445.02L1430.26 464.84L1423.4 454.58ZM1454.42 445.02L1463.15 453.75L1437.12 475.1L1430.26 464.84ZM1402.83 423.78L1409.69 434.05L1388.53 445.36L1383.8 433.95ZM1379.08 422.54L1383.8 433.95L1363.16 440.21L1360.76 428.1ZM1360.76 428.1L1363.16 440.21L1341.7 442.33L1341.7 429.98ZM1341.7 429.98L1341.7 442.33L1320.24 440.21L1322.64 428.1ZM1484.5 427.72L1494.77 434.58L1471.87 462.47L1463.15 453.75ZM1384.58 289.42L1393.31 280.69L1402.39 291.75L1392.12 298.61ZM1402.39 291.75L1412.65 284.89L1420.54 299.64L1409.13 304.37ZM1513.45 332.3L1525.8 332.3L1522.26 368.22L1510.15 365.81ZM1534.37 370.62L1546.47 373.03L1534.59 412.2L1523.19 407.47ZM1510.15 365.81L1522.26 368.22L1511.78 402.75L1500.38 398.03ZM1522.26 368.22L1534.37 370.62L1523.19 407.47L1511.78 402.75ZM1511.78 402.75L1523.19 407.47L1505.03 441.44L1494.77 434.58ZM1494.77 434.58L1505.03 441.44L1480.6 471.2L1471.87 462.47ZM1505.03 441.44L1515.3 448.29L1489.33 479.93L1480.6 471.2ZM1309.04 411.14L1304.32 422.54L1287.43 413.52L1294.29 403.25ZM1341.7 321.04L1341.7 308.69L1346.31 309.14L1343.9 321.25ZM1346.01 321.89L1350.74 310.49L1354.82 312.67L1347.96 322.93ZM1349.67 324.33L1358.39 315.61L1361.33 319.18L1351.07 326.04ZM1352.97 332.3L1365.31 332.3L1364.86 336.91L1352.75 334.5ZM1352.11 336.61L1363.51 341.34L1361.33 345.42L1351.07 338.56ZM1349.67 340.27L1358.39 348.99L1354.82 351.93L1347.96 341.67ZM1343.9 343.35L1346.31 355.46L1341.7 355.91L1341.7 343.56ZM1339.5 343.35L1337.09 355.46L1332.66 354.11L1337.39 342.71ZM1332.33 338.56L1322.07 345.42L1319.89 341.34L1331.29 336.61ZM1330.65 334.5L1318.54 336.91L1318.09 332.3L1330.43 332.3ZM1335.44 322.93L1328.58 312.67L1332.66 310.49L1337.39 321.89ZM1339.5 321.25L1337.09 309.14L1341.7 308.69L1341.7 321.04ZM1341.7 332.3L1341.7 321.04L1343.9 321.25ZM1341.7 332.3L1346.01 321.89L1347.96 322.93ZM1341.7 332.3L1349.67 324.33L1351.07 326.04ZM1341.7 332.3L1351.07 326.04L1352.11 327.99ZM1341.7 332.3L1352.97 332.3L1352.75 334.5ZM1341.7 332.3L1352.11 336.61L1351.07 338.56ZM1341.7 332.3L1349.67 340.27L1347.96 341.67ZM1341.7 332.3L1347.96 341.67L1346.01 342.71ZM1341.7 332.3L1343.9 343.35L1341.7 343.56ZM1341.7 332.3L1341.7 343.56L1339.5 343.35ZM1341.7 332.3L1337.39 342.71L1335.44 341.67ZM1341.7 332.3L1333.73 340.27L1332.33 338.56ZM1341.7 332.3L1332.33 338.56L1331.29 336.61ZM1341.7 332.3L1330.65 334.5L1330.43 332.3ZM1341.7 332.3L1330.43 332.3L1330.65 330.1ZM1341.7 332.3L1331.29 327.99L1332.33 326.04ZM1341.7 332.3L1333.73 324.33L1335.44 322.93ZM1341.7 332.3L1337.39 321.89L1339.5 321.25Z"/>
<path fill="#D3BEA0" stroke="#D3BEA0" stroke-width="0.35" d="M1209.57 306.02L1197.47 303.61L1205.83 276.02L1217.24 280.75ZM1262.86 299.64L1251.46 294.92L1260.48 278.03L1270.75 284.89ZM1321.72 302.4L1314.87 292.14L1323.22 287.68L1327.94 299.08ZM1341.7 296.35L1341.7 284L1351.12 284.93L1348.71 297.04ZM1341.7 271.66L1341.7 259.31L1355.94 260.71L1353.53 272.82ZM1360.18 287.68L1364.91 276.27L1375.39 281.88L1368.53 292.14ZM1382.25 271.61L1389.11 261.35L1402.04 271.96L1393.31 280.69ZM1231.67 332.3L1219.33 332.3L1221.68 308.43L1233.79 310.84ZM1233.79 353.76L1221.68 356.17L1219.33 332.3L1231.67 332.3ZM1268.71 332.3L1256.37 332.3L1258 315.65L1270.11 318.06ZM1293.4 332.3L1281.06 332.3L1282.22 320.47L1294.33 322.88ZM1251.46 369.68L1240.05 374.4L1233.79 353.76L1245.9 351.36ZM1321.72 362.2L1314.87 372.46L1307.55 366.45L1316.28 357.72ZM1334.69 367.56L1332.28 379.67L1323.22 376.92L1327.94 365.52ZM1355.46 365.52L1360.18 376.92L1351.12 379.67L1348.71 367.56ZM1311.8 312.32L1301.54 305.47L1307.55 298.15L1316.28 306.88ZM1332.28 379.67L1329.87 391.78L1318.49 388.33L1323.22 376.92ZM1375.85 366.45L1384.58 375.18L1375.39 382.72L1368.53 372.46ZM1369.63 399.73L1374.36 411.14L1358.35 416L1355.94 403.89ZM1420.54 299.64L1431.94 294.92L1437.5 313.24L1425.4 315.65ZM1401.18 320.47L1413.29 318.06L1414.69 332.3L1402.35 332.3ZM1427.04 332.3L1439.38 332.3L1437.5 351.36L1425.4 348.95ZM1401.18 344.13L1413.29 346.54L1409.13 360.23L1397.73 355.51ZM1449.61 353.76L1461.72 356.17L1454.76 379.13L1443.35 374.4ZM1454.76 379.13L1466.16 383.85L1453.71 407.14L1443.45 400.29ZM1488.97 393.3L1500.38 398.03L1484.5 427.72L1474.24 420.86ZM1433.18 393.43L1443.45 400.29L1428.23 418.83L1419.5 410.1ZM1395.97 413.52L1402.83 423.78L1383.8 433.95L1379.08 422.54ZM1474.24 420.86L1484.5 427.72L1463.15 453.75L1454.42 445.02Z"/>
<path fill="#DACDC0" stroke="#DACDC0" stroke-width="0.35" d="M1245.9 313.24L1233.79 310.84L1240.05 290.2L1251.46 294.92ZM1281.01 291.75L1270.75 284.89L1281.36 271.96L1290.09 280.69ZM1274.27 304.37L1262.86 299.64L1270.75 284.89L1281.01 291.75ZM1258 315.65L1245.9 313.24L1251.46 294.92L1262.86 299.64ZM1270.11 318.06L1258 315.65L1262.86 299.64L1274.27 304.37ZM1301.15 271.61L1294.29 261.35L1309.04 253.46L1313.77 264.87ZM1308.01 281.88L1301.15 271.61L1313.77 264.87L1318.49 276.27ZM1323.22 287.68L1318.49 276.27L1329.87 272.82L1332.28 284.93ZM1290.09 280.69L1281.36 271.96L1294.29 261.35L1301.15 271.61ZM1301.54 305.47L1291.28 298.61L1298.82 289.42L1307.55 298.15ZM1348.71 297.04L1351.12 284.93L1360.18 287.68L1355.46 299.08ZM1355.46 299.08L1360.18 287.68L1368.53 292.14L1361.68 302.4ZM1351.12 284.93L1353.53 272.82L1364.91 276.27L1360.18 287.68ZM1358.35 248.6L1360.76 236.5L1379.08 242.06L1374.36 253.46ZM1375.39 281.88L1382.25 271.61L1393.31 280.69L1384.58 289.42ZM1256.37 332.3L1244.02 332.3L1245.9 313.24L1258 315.65ZM1258 348.95L1245.9 351.36L1244.02 332.3L1256.37 332.3ZM1281.06 332.3L1268.71 332.3L1270.11 318.06L1282.22 320.47ZM1290.09 383.91L1281.36 392.64L1270.75 379.71L1281.01 372.85ZM1308.48 346.06L1297.08 350.78L1294.33 341.72L1306.44 339.31ZM1348.71 367.56L1351.12 379.67L1341.7 380.6L1341.7 368.25ZM1374.92 318.54L1386.32 313.82L1389.07 322.88L1376.96 325.29ZM1308.48 318.54L1297.08 313.82L1301.54 305.47L1311.8 312.32ZM1319.89 341.34L1308.48 346.06L1306.44 339.31L1318.54 336.91ZM1318.54 327.69L1306.44 325.29L1308.48 318.54L1319.89 323.26ZM1358.39 348.99L1367.12 357.72L1361.68 362.2L1354.82 351.93ZM1354.82 351.93L1361.68 362.2L1355.46 365.52L1350.74 354.11ZM1350.74 354.11L1355.46 365.52L1348.71 367.56L1346.31 355.46ZM1337.09 355.46L1334.69 367.56L1327.94 365.52L1332.66 354.11ZM1328.58 351.93L1321.72 362.2L1316.28 357.72L1325.01 348.99ZM1307.55 366.45L1298.82 375.18L1291.28 365.99L1301.54 359.13ZM1351.12 379.67L1353.53 391.78L1341.7 392.94L1341.7 380.6ZM1360.18 376.92L1364.91 388.33L1353.53 391.78L1351.12 379.67ZM1390 332.3L1402.35 332.3L1401.18 344.13L1389.07 341.72ZM1364.91 388.33L1369.63 399.73L1355.94 403.89L1353.53 391.78ZM1341.7 392.94L1341.7 405.29L1327.46 403.89L1329.87 391.78ZM1425.4 315.65L1437.5 313.24L1439.38 332.3L1427.04 332.3ZM1402.35 332.3L1414.69 332.3L1413.29 346.54L1401.18 344.13ZM1414.69 332.3L1427.04 332.3L1425.4 348.95L1413.29 346.54ZM1476.41 332.3L1488.76 332.3L1485.93 360.99L1473.83 358.58ZM1488.76 332.3L1501.11 332.3L1498.04 363.4L1485.93 360.99ZM1389.11 403.25L1395.97 413.52L1379.08 422.54L1374.36 411.14ZM1419.5 410.1L1428.23 418.83L1409.69 434.05L1402.83 423.78ZM1393.31 280.69L1402.04 271.96L1412.65 284.89L1402.39 291.75ZM1523.19 407.47L1534.59 412.2L1515.3 448.29L1505.03 441.44ZM1343.9 321.25L1346.31 309.14L1350.74 310.49L1346.01 321.89ZM1351.07 326.04L1361.33 319.18L1363.51 323.26L1352.11 327.99ZM1352.75 334.5L1364.86 336.91L1363.51 341.34L1352.11 336.61ZM1351.07 338.56L1361.33 345.42L1358.39 348.99L1349.67 340.27ZM1347.96 341.67L1354.82 351.93L1350.74 354.11L1346.01 342.71ZM1341.7 343.56L1341.7 355.91L1337.09 355.46L1339.5 343.35ZM1337.39 342.71L1332.66 354.11L1328.58 351.93L1335.44 341.67ZM1333.73 340.27L1325.01 348.99L1322.07 345.42L1332.33 338.56ZM1331.29 336.61L1319.89 341.34L1318.54 336.91L1330.65 334.5ZM1330.43 332.3L1318.09 332.3L1318.54 327.69L1330.65 330.1ZM1330.65 330.1L1318.54 327.69L1319.89 323.26L1331.29 327.99ZM1331.29 327.99L1319.89 323.26L1322.07 319.18L1332.33 326.04ZM1333.73 324.33L1325.01 315.61L1328.58 312.67L1335.44 322.93ZM1337.39 321.89L1332.66 310.49L1337.09 309.14L1339.5 321.25ZM1341.7 332.3L1352.11 327.99L1352.75 330.1ZM1341.7 332.3L1352.75 330.1L1352.97 332.3ZM1341.7 332.3L1330.65 330.1L1331.29 327.99ZM1341.7 332.3L1332.33 326.04L1333.73 324.33Z"/>
<path fill="#BDB68C" stroke="#BDB68C" stroke-width="0.35" d="M1285.67 309.09L1274.27 304.37L1281.01 291.75L1291.28 298.61ZM1274.27 360.23L1262.86 364.96L1258 348.95L1270.11 346.54ZM1282.22 344.13L1270.11 346.54L1268.71 332.3L1281.06 332.3ZM1285.67 355.51L1274.27 360.23L1270.11 346.54L1282.22 344.13ZM1374.92 346.06L1386.32 350.78L1381.86 359.13L1371.6 352.28ZM1376.96 339.31L1389.07 341.72L1386.32 350.78L1374.92 346.06ZM1377.65 332.3L1390 332.3L1389.07 341.72L1376.96 339.31ZM1376.96 325.29L1389.07 322.88L1390 332.3L1377.65 332.3ZM1319.89 323.26L1308.48 318.54L1311.8 312.32L1322.07 319.18ZM1328.58 312.67L1321.72 302.4L1327.94 299.08L1332.66 310.49ZM1337.09 309.14L1334.69 297.04L1341.7 296.35L1341.7 308.69ZM1346.31 309.14L1348.71 297.04L1355.46 299.08L1350.74 310.49ZM1358.39 315.61L1367.12 306.88L1371.6 312.32L1361.33 319.18ZM1364.86 327.69L1376.96 325.29L1377.65 332.3L1365.31 332.3ZM1365.31 332.3L1377.65 332.3L1376.96 339.31L1364.86 336.91ZM1364.86 336.91L1376.96 339.31L1374.92 346.06L1363.51 341.34ZM1363.51 341.34L1374.92 346.06L1371.6 352.28L1361.33 345.42ZM1297.08 350.78L1285.67 355.51L1282.22 344.13L1294.33 341.72ZM1301.54 359.13L1291.28 365.99L1285.67 355.51L1297.08 350.78ZM1329.87 391.78L1327.46 403.89L1313.77 399.73L1318.49 388.33ZM1461.72 356.17L1473.83 358.58L1466.16 383.85L1454.76 379.13ZM1443.45 400.29L1453.71 407.14L1436.96 427.56L1428.23 418.83ZM1392.12 298.61L1402.39 291.75L1409.13 304.37L1397.73 309.09ZM1332.33 326.04L1322.07 319.18L1325.01 315.61L1333.73 324.33Z"/>
<path fill="#8AA67A" stroke="#8AA67A" stroke-width="0.35" d="M1316.28 306.88L1307.55 298.15L1314.87 292.14L1321.72 302.4ZM1305.75 332.3L1293.4 332.3L1294.33 322.88L1306.44 325.29ZM1371.6 352.28L1381.86 359.13L1375.85 366.45L1367.12 357.72ZM1410.77 401.37L1419.5 410.1L1402.83 423.78L1395.97 413.52Z"/>
<path fill="#A5AD85" stroke="#A5AD85" stroke-width="0.35" d="M1327.94 299.08L1323.22 287.68L1332.28 284.93L1334.69 297.04ZM1334.69 297.04L1332.28 284.93L1341.7 284L1341.7 296.35ZM1270.11 346.54L1258 348.95L1256.37 332.3L1268.71 332.3ZM1361.68 362.2L1368.53 372.46L1360.18 376.92L1355.46 365.52ZM1322.07 319.18L1311.8 312.32L1316.28 306.88L1325.01 315.61ZM1325.01 315.61L1316.28 306.88L1321.72 302.4L1328.58 312.67ZM1386.32 313.82L1397.73 309.09L1401.18 320.47L1389.07 322.88ZM1382.25 392.99L1389.11 403.25L1374.36 411.14L1369.63 399.73ZM1413.29 346.54L1425.4 348.95L1420.54 364.96L1409.13 360.23ZM1425.4 348.95L1437.5 351.36L1431.94 369.68L1420.54 364.96ZM1453.71 407.14L1463.98 414L1445.69 436.29L1436.96 427.56ZM1428.23 418.83L1436.96 427.56L1416.54 444.31L1409.69 434.05ZM1352.11 327.99L1363.51 323.26L1364.86 327.69L1352.75 330.1ZM1352.75 330.1L1364.86 327.69L1365.31 332.3L1352.97 332.3Z"/>
<path fill="#52946F" stroke="#52946F" stroke-width="0.35" d="M1318.09 332.3L1305.75 332.3L1306.44 325.29L1318.54 327.69ZM1368.53 372.46L1375.39 382.72L1364.91 388.33L1360.18 376.92ZM1386.32 350.78L1397.73 355.51L1392.12 365.99L1381.86 359.13ZM1389.07 341.72L1401.18 344.13L1397.73 355.51L1386.32 350.78ZM1431.94 369.68L1443.35 374.4L1433.18 393.43L1422.92 386.57ZM1443.35 374.4L1454.76 379.13L1443.45 400.29L1433.18 393.43ZM1412.65 379.71L1422.92 386.57L1410.77 401.37L1402.04 392.64ZM1402.04 392.64L1410.77 401.37L1395.97 413.52L1389.11 403.25Z"/>
<path fill="#729D75" stroke="#729D75" stroke-width="0.35" d="M1381.86 359.13L1392.12 365.99L1384.58 375.18L1375.85 366.45ZM1384.58 375.18L1393.31 383.91L1382.25 392.99L1375.39 382.72ZM1409.13 360.23L1420.54 364.96L1412.65 379.71L1402.39 372.85ZM1402.39 372.85L1412.65 379.71L1402.04 392.64L1393.31 383.91Z"/>
<path fill="#348C70" stroke="#348C70" stroke-width="0.35" d="M1375.39 382.72L1382.25 392.99L1369.63 399.73L1364.91 388.33ZM1392.12 365.99L1402.39 372.85L1393.31 383.91L1384.58 375.18ZM1393.31 383.91L1402.04 392.64L1389.11 403.25L1382.25 392.99ZM1397.73 355.51L1409.13 360.23L1402.39 372.85L1392.12 365.99Z"/>
<path fill="#056E6C" stroke="#056E6C" stroke-width="0.35" d="M1420.54 364.96L1431.94 369.68L1422.92 386.57L1412.65 379.71Z"/>
<path fill="#0C6168" stroke="#0C6168" stroke-width="0.35" d="M1422.92 386.57L1433.18 393.43L1419.5 410.1L1410.77 401.37Z"/>
</g>
<g fill="none" stroke="#B0B0B0" stroke-width="1.1"><circle cx="1341.7" cy="332.3" r="47.53"/><circle cx="1341.7" cy="332.3" r="95.06"/><circle cx="1341.7" cy="332.3" r="142.59"/><circle cx="1341.7" cy="332.3" r="190.12"/><path d="M1341.7 332.3L1341.7 97.9M1341.7 332.3L1507.45 166.55M1341.7 332.3L1576.1 332.3M1341.7 332.3L1507.45 498.05M1341.7 332.3L1341.7 566.7M1341.7 332.3L1175.95 498.05M1341.7 332.3L1107.3 332.3M1341.7 332.3L1175.95 166.55"/></g>
<circle cx="1341.7" cy="332.3" r="234.4" fill="none" stroke="#000" stroke-width="1.15"/>
<circle cx="1576" cy="331.9" r="1.15" fill="#000"/>
<defs><linearGradient id="cb" x1="0" x2="1" y1="0" y2="0"><stop offset="0" stop-color="#EEEDF2"/><stop offset="0.01" stop-color="#EBEAED"/><stop offset="0.03" stop-color="#E8E6E8"/><stop offset="0.04" stop-color="#E6E1E1"/><stop offset="0.06" stop-color="#E3DCDA"/><stop offset="0.07" stop-color="#E1DAD4"/><stop offset="0.09" stop-color="#DFD7CF"/><stop offset="0.1" stop-color="#DCD2C8"/><stop offset="0.12" stop-color="#DACDC0"/><stop offset="0.13" stop-color="#D9CAB8"/><stop offset="0.15" stop-color="#D8C6B0"/><stop offset="0.16" stop-color="#D6C2A8"/><stop offset="0.18" stop-color="#D3BEA0"/><stop offset="0.19" stop-color="#CEBC9A"/><stop offset="0.21" stop-color="#C9B995"/><stop offset="0.22" stop-color="#C3B890"/><stop offset="0.24" stop-color="#BDB68C"/><stop offset="0.25" stop-color="#B6B48A"/><stop offset="0.26" stop-color="#B0B187"/><stop offset="0.28" stop-color="#AAAF86"/><stop offset="0.29" stop-color="#A5AD85"/><stop offset="0.31" stop-color="#9EAA82"/><stop offset="0.32" stop-color="#98A87E"/><stop offset="0.34" stop-color="#91A77C"/><stop offset="0.35" stop-color="#8AA67A"/><stop offset="0.37" stop-color="#84A478"/><stop offset="0.38" stop-color="#7EA175"/><stop offset="0.4" stop-color="#789F75"/><stop offset="0.41" stop-color="#729D75"/><stop offset="0.43" stop-color="#6B9C74"/><stop offset="0.44" stop-color="#649A72"/><stop offset="0.46" stop-color="#5B9770"/><stop offset="0.47" stop-color="#52946F"/><stop offset="0.49" stop-color="#4A9270"/><stop offset="0.5" stop-color="#438F70"/><stop offset="0.51" stop-color="#3C8E70"/><stop offset="0.53" stop-color="#348C70"/><stop offset="0.54" stop-color="#2C8A70"/><stop offset="0.56" stop-color="#248770"/><stop offset="0.57" stop-color="#1B826F"/><stop offset="0.59" stop-color="#127D6E"/><stop offset="0.6" stop-color="#0D7A6E"/><stop offset="0.62" stop-color="#08776F"/><stop offset="0.63" stop-color="#06726E"/><stop offset="0.65" stop-color="#056E6C"/><stop offset="0.66" stop-color="#046B6B"/><stop offset="0.68" stop-color="#04686A"/><stop offset="0.69" stop-color="#086469"/><stop offset="0.71" stop-color="#0C6168"/><stop offset="0.72" stop-color="#105E68"/><stop offset="0.74" stop-color="#135A68"/><stop offset="0.75" stop-color="#165767"/><stop offset="0.76" stop-color="#185466"/><stop offset="0.78" stop-color="#1A5064"/><stop offset="0.79" stop-color="#1C4B62"/><stop offset="0.81" stop-color="#1F495F"/><stop offset="0.82" stop-color="#22475C"/><stop offset="0.84" stop-color="#22445B"/><stop offset="0.85" stop-color="#23405A"/><stop offset="0.87" stop-color="#243A54"/><stop offset="0.88" stop-color="#25354F"/><stop offset="0.9" stop-color="#25324C"/><stop offset="0.91" stop-color="#252F4A"/><stop offset="0.93" stop-color="#252C48"/><stop offset="0.94" stop-color="#252A45"/><stop offset="0.96" stop-color="#242642"/><stop offset="0.97" stop-color="#24223E"/><stop offset="0.99" stop-color="#241E3A"/><stop offset="1" stop-color="#231A36"/></linearGradient></defs>
<rect x="406.2" y="605.4" width="800.5" height="30" fill="url(#cb)" stroke="#000" stroke-width="1.1"/>
<path d="M406.2 635.4V657.6M500.38 635.4V657.6M594.55 635.4V657.6M688.73 635.4V657.6M782.91 635.4V657.6M877.08 635.4V657.6M971.26 635.4V657.6M1065.44 635.4V657.6M1159.61 635.4V657.6" stroke="#000" stroke-width="1.1" fill="none"/>
<text x="743" y="32" font-size="29.5" text-anchor="start" textLength="48" lengthAdjust="spacingAndGlyphs">Feb</text>
<text x="799.6" y="32" font-size="29.5" text-anchor="start" textLength="70.5" lengthAdjust="spacingAndGlyphs">2005</text>
<text x="273.6" y="60.8" font-size="26.3" text-anchor="middle" textLength="74" lengthAdjust="spacingAndGlyphs">CIOFS</text>
<text x="808.1" y="60.8" font-size="26.3" text-anchor="middle" textLength="96.9" lengthAdjust="spacingAndGlyphs">NWGOA</text>
<text x="1341.8" y="60.8" font-size="26.3" text-anchor="middle" textLength="180.8" lengthAdjust="spacingAndGlyphs">CIOFS-NWGOA</text>
<text x="274.3" y="84" font-size="19.55" text-anchor="middle">N</text>
<text x="274.15" y="591.7" font-size="19.55" text-anchor="middle">S</text>
<text x="20.65" y="337.9" font-size="19.55" text-anchor="middle">W</text>
<text x="528.3" y="337.9" font-size="19.55" text-anchor="middle" textLength="10.9" lengthAdjust="spacingAndGlyphs">E</text>
<text x="332.85" y="309.4" font-size="19.55" text-anchor="middle">0.2</text>
<text x="376.95" y="291.6" font-size="19.55" text-anchor="middle">0.4</text>
<text x="420.05" y="273.9" font-size="19.55" text-anchor="middle">0.6</text>
<text x="464.15" y="255.9" font-size="19.55" text-anchor="middle">0.8</text>
<text x="808.55" y="84" font-size="19.55" text-anchor="middle">N</text>
<text x="808.4" y="591.7" font-size="19.55" text-anchor="middle">S</text>
<text x="554.9" y="337.9" font-size="19.55" text-anchor="middle">W</text>
<text x="1062.55" y="337.9" font-size="19.55" text-anchor="middle" textLength="10.9" lengthAdjust="spacingAndGlyphs">E</text>
<text x="867.1" y="309.4" font-size="19.55" text-anchor="middle">0.2</text>
<text x="911.2" y="291.6" font-size="19.55" text-anchor="middle">0.4</text>
<text x="954.3" y="273.9" font-size="19.55" text-anchor="middle">0.6</text>
<text x="998.4" y="255.9" font-size="19.55" text-anchor="middle">0.8</text>
<text x="1342.55" y="84" font-size="19.55" text-anchor="middle">N</text>
<text x="1342.4" y="591.7" font-size="19.55" text-anchor="middle">S</text>
<text x="1088.9" y="337.9" font-size="19.55" text-anchor="middle">W</text>
<text x="1596.55" y="337.9" font-size="19.55" text-anchor="middle" textLength="10.9" lengthAdjust="spacingAndGlyphs">E</text>
<text x="1401.1" y="309.4" font-size="19.55" text-anchor="middle">0.2</text>
<text x="1445.2" y="291.6" font-size="19.55" text-anchor="middle">0.4</text>
<text x="1488.3" y="273.9" font-size="19.55" text-anchor="middle">0.6</text>
<text x="1532.4" y="255.9" font-size="19.55" text-anchor="middle">0.8</text>
<text x="406.2" y="680.6" font-size="23.4" text-anchor="middle">0</text>
<text x="500.38" y="680.6" font-size="23.4" text-anchor="middle">2</text>
<text x="594.55" y="680.6" font-size="23.4" text-anchor="middle">4</text>
<text x="688.73" y="680.6" font-size="23.4" text-anchor="middle">6</text>
<text x="782.91" y="680.6" font-size="23.4" text-anchor="middle">8</text>
<text x="876.28" y="680.6" font-size="23.4" text-anchor="middle" textLength="27.3" lengthAdjust="spacingAndGlyphs">10</text>
<text x="970.46" y="680.6" font-size="23.4" text-anchor="middle" textLength="27.3" lengthAdjust="spacingAndGlyphs">12</text>
<text x="1064.64" y="680.6" font-size="23.4" text-anchor="middle" textLength="27.3" lengthAdjust="spacingAndGlyphs">14</text>
<text x="1158.81" y="680.6" font-size="23.4" text-anchor="middle" textLength="27.3" lengthAdjust="spacingAndGlyphs">16</text>
<text x="523" y="708.8" font-size="23.4" text-anchor="start" textLength="299.5" lengthAdjust="spacingAndGlyphs">Currents [m/s] at COI0518;</text>
<text x="830.5" y="708.8" font-size="23.4" text-anchor="start" textLength="257" lengthAdjust="spacingAndGlyphs">number of occurrences</text>
</svg></body></html>
